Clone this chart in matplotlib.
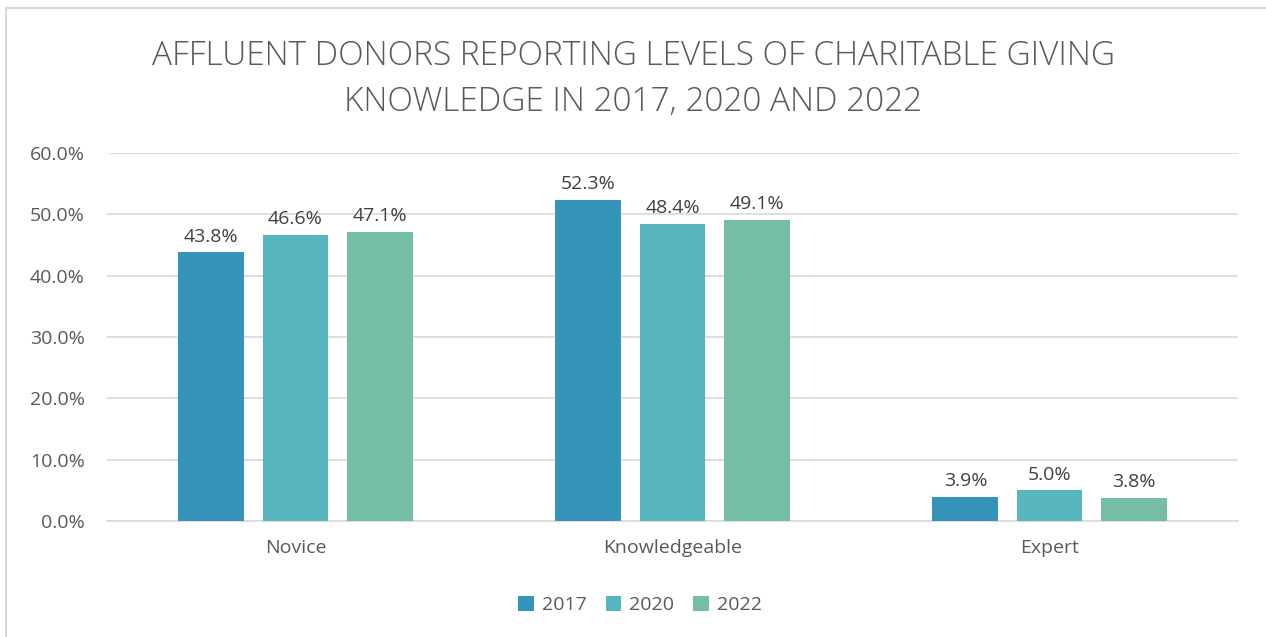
import matplotlib.pyplot as plt
import matplotlib.patches as mpatches
import numpy as np

categories = ['Novice', 'Knowledgeable', 'Expert']
years = ['2017', '2020', '2022']
vals_2017 = [43.8, 52.3, 3.9]
vals_2020 = [46.6, 48.4, 5.0]
vals_2022 = [47.1, 49.1, 3.8]
yticks = [0, 10, 20, 30, 40, 50, 60]

colors = ['#3494BA', '#58B6C0', '#75BDA7']
txt = '#595959'
plt.rcParams['font.family'] = ['Open Sans', 'DejaVu Sans']

fig = plt.figure(figsize=(12.66, 6.37), dpi=100)
# chart border
fig.patches.append(mpatches.Rectangle((6/1266, -0.01), 1.02, (637-8)/637 + 0.01,
                                      transform=fig.transFigure, fill=False,
                                      edgecolor='#D9D9D9', linewidth=1.5))
ax = fig.add_axes([107/1266, 1 - 521/637, (1238-107)/1266, 368/637])

x = np.arange(len(categories))
w = 0.175
step = 0.223
for i, (vals, yr) in enumerate(zip([vals_2017, vals_2020, vals_2022], years)):
    pos = x + (i - 1) * step
    ax.bar(pos, vals, width=w, color=colors[i], label=yr, zorder=3)
    for p, v in zip(pos, vals):
        ax.text(p, v + 1.1, f'{v:.1f}%', ha='center', va='bottom',
                fontsize=14, color='#404040')

ax.set_xlim(-0.5, 2.5)
ax.set_ylim(0, 60)
ax.set_yticks(yticks)
ax.set_yticklabels([f'{t:.1f}%' for t in yticks], fontsize=14, color=txt)
ax.set_xticks(x)
ax.set_xticklabels(categories, fontsize=14, color=txt)
ax.tick_params(axis='both', length=0)
ax.tick_params(axis='y', pad=16)
ax.tick_params(axis='x', pad=13)
ax.grid(axis='y', color='#D9D9D9', linewidth=1.2, zorder=0)
for s in ['top', 'right', 'left']:
    ax.spines[s].set_visible(False)
ax.spines['bottom'].set_color('#D9D9D9')
ax.spines['bottom'].set_linewidth(1.2)

fig.text(0.5, 1 - 79/637, 'AFFLUENT DONORS REPORTING LEVELS OF CHARITABLE GIVING\nKNOWLEDGE IN 2017, 2020 AND 2022',
         ha='center', va='center', fontsize=24, color=txt, linespacing=1.5,
         fontweight='light')

fig.legend(loc='center', bbox_to_anchor=(640/1266, 1 - 605/637), ncol=3,
           frameon=False, fontsize=14, labelcolor=txt, handlelength=0.8,
           handleheight=0.8, handletextpad=0.4, columnspacing=1.0)

fig.savefig('out.png', dpi=100)
